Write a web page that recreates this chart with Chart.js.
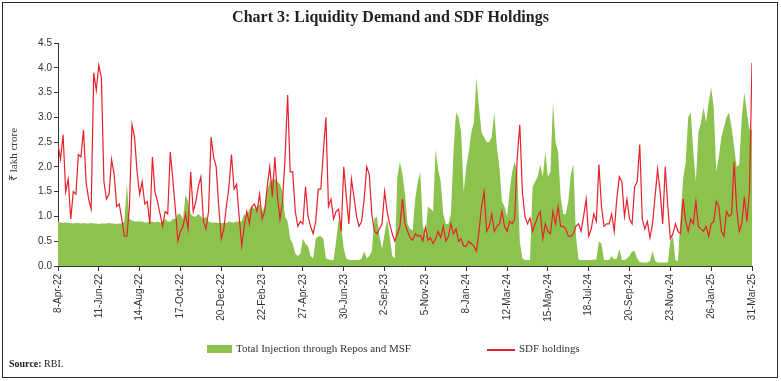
<!DOCTYPE html>
<html>
<head>
<meta charset="utf-8">
<script src="https://cdn.jsdelivr.net/npm/chart.js@4.4.1/dist/chart.umd.min.js"></script>
<style>
  html, body { margin: 0; padding: 0; background: #fff; }
  #wrap { position: relative; width: 781px; height: 381px; overflow: hidden; background: #fff; }
  #frame { position: absolute; left: 2px; top: 2px; width: 774px; height: 374px; border: 1.5px solid #2b2b2b; pointer-events: none; }
  #title { position: absolute; left: 0; top: 8px; width: 781px; text-align: center; font: bold 16px "Liberation Serif", serif; color: #222; }
  canvas { position: absolute; left: 0; top: 0; }
  .lg { position: absolute; top: 342px; font: 11px "Liberation Serif", serif; color: #333; white-space: nowrap; }
  .swatch { position: absolute; top: 345px; left: 207px; width: 25px; height: 8px; background: #8cc34f; }
  .redline { position: absolute; top: 349px; left: 487px; width: 28px; height: 1.5px; background: #e8202a; }
  #source { position: absolute; left: 9px; top: 358px; font: 10px "Liberation Serif", serif; color: #222; }
</style>
</head>
<body>
<div id="wrap">
  <canvas id="myChart" width="781" height="381"></canvas>
  <div id="title">Chart 3: Liquidity Demand and SDF Holdings</div>
  <div class="swatch"></div>
  <div class="lg" style="left:236px">Total Injection through Repos and MSF</div>
  <div class="redline"></div>
  <div class="lg" style="left:519px">SDF holdings</div>
  <div id="source"><b>Source:</b> RBI.</div>
  <div id="frame"></div>
</div>
<script>
// one value every 4 days, starting 8-Apr-22
const dayStep = 4;
const tickDays = 64;
const tickLabels = ['8-Apr-22', '11-Jun-22', '14-Aug-22', '17-Oct-22', '20-Dec-22', '22-Feb-23',
  '27-Apr-23', '30-Jun-23', '2-Sep-23', '5-Nov-23', '8-Jan-24', '12-Mar-24', '15-May-24',
  '18-Jul-24', '20-Sep-24', '23-Nov-24', '26-Jan-25', '31-Mar-25'];

// Total Injection through Repos and MSF (₹ lakh crore)
const injection = [
  0.9, 0.88, 0.87, 0.88, 0.87, 0.87, 0.86, 0.87, 0.87, 0.86,
  0.87, 0.86, 0.86, 0.87, 0.86, 0.86, 0.85, 0.86, 0.86, 0.86,
  0.87, 0.86, 0.86, 0.85, 0.86, 0.86, 0.9, 1.65, 0.95, 0.92,
  0.9, 0.9, 0.9, 0.9, 0.88, 0.88, 0.9, 0.9, 0.88, 0.9,
  0.88, 0.9, 0.95, 0.9,
  0.9, 0.95, 0.95, 1.05, 1.05, 0.95, 1.45, 1.3, 1.05, 1.0,
  1.0, 1.05, 1.0, 0.95, 1.0, 0.9, 0.88, 0.88, 0.88, 0.87,
  0.87, 0.87, 0.87, 0.9, 0.88, 0.88, 0.9, 0.9, 0.9, 1.05,
  1.0, 1.15, 1.2, 1.15, 1.2, 1.25, 1.1, 1.2, 1.55, 1.7,
  1.75, 1.75, 1.7, 1.65, 1.5,
  1.0, 0.9, 0.55, 0.45, 0.25, 0.2, 0.25, 0.55, 0.45, 0.4,
  0.2, 0.15, 0.55, 0.6, 0.6, 0.55, 0.15, 0.13, 0.12, 0.12,
  0.5, 0.95, 0.8, 0.35, 0.15, 0.12, 0.12, 0.12, 0.12, 0.12,
  0.15, 0.3, 0.15, 0.2, 0.3, 0.95, 1.0, 0.6, 0.35, 0.65,
  0.95, 0.6, 0.2, 0.15, 1.8, 2.1,
  1.85, 1.45, 0.85, 0.75, 0.72, 1.35, 1.7, 1.9, 0.8, 0.6,
  1.2, 1.15, 1.1, 2.35, 1.95, 1.7, 1.05, 0.85, 0.85, 1.05,
  2.3, 3.1, 3.0, 2.7, 1.5, 2.0, 2.3, 2.7, 2.9, 3.8,
  3.2, 2.7, 2.6, 2.5, 2.5, 2.6, 3.1, 2.4, 2.0, 1.3,
  1.2, 1.0, 1.5, 1.9, 2.1,
  1.9, 0.5, 0.15, 0.12, 0.12, 0.12, 1.6, 1.7, 1.8, 2.05,
  1.8, 2.3, 1.8, 1.9, 3.3, 2.5, 2.3, 1.4, 1.05, 1.05,
  1.3, 1.85, 2.05, 0.6, 0.13, 0.12, 0.12, 0.12, 0.12, 0.12,
  0.13, 0.13, 0.5, 0.45, 0.12, 0.12, 0.12, 0.2, 0.13, 0.15,
  0.35, 0.12, 0.12, 0.15, 0.2,
  0.3, 0.3, 0.15, 0.08, 0.07, 0.07, 0.07, 0.1, 0.3, 0.1,
  0.07, 0.07, 0.07, 0.07, 0.07, 0.5, 0.6, 0.12, 0.1, 1.0,
  1.75, 2.1, 3.0, 3.1, 2.3, 1.7, 2.7, 2.9, 3.2, 2.9,
  3.3, 3.6, 3.2, 1.9, 2.2, 2.6, 2.8, 3.0, 3.1, 2.8,
  2.4, 2.0, 2.05, 3.0, 3.5, 3.1, 2.75, 2.75
];

// SDF holdings (₹ lakh crore)
const sdf = [
  2.45, 2.15, 2.65, 1.5, 1.75, 0.95, 1.5, 1.45, 2.25, 2.2,
  2.75, 1.7, 1.35, 1.15, 3.9, 3.55, 4.05, 3.8, 1.7, 1.35,
  1.45, 2.15, 1.85, 1.2, 1.25, 0.95, 0.6, 0.6, 1.2, 2.85,
  2.6, 1.9, 1.45, 1.7, 1.25, 1.3, 0.85, 2.2, 1.5, 1.3,
  1.05, 0.8, 1.1, 1.05,
  2.3, 1.75, 1.15, 0.5, 0.7, 0.8, 1.05, 0.75, 1.9, 1.1,
  1.3, 1.6, 1.8, 0.9, 0.75, 1.1, 2.6, 2.2, 2.0, 1.2,
  0.55, 0.75, 1.2, 1.6, 2.25, 1.55, 1.65, 1.0, 0.4, 0.8,
  1.1, 0.85, 1.2, 1.25, 1.1, 1.45, 0.95, 1.1, 1.6, 2.0,
  1.4, 2.2, 1.4, 0.95, 1.3,
  2.2, 3.45, 1.9, 1.9, 1.1, 0.8, 0.9, 0.85, 1.6, 1.0,
  0.8, 0.65, 0.9, 1.55, 1.55, 2.3, 3.0, 1.2, 1.35, 0.95,
  1.1, 1.15, 0.7, 2.0, 1.4, 0.85, 1.75, 1.4, 1.0, 0.8,
  0.9, 1.35, 2.0, 1.85, 1.05, 0.7, 0.65, 0.75, 0.85, 1.5,
  1.1, 0.85, 0.65, 0.5, 0.65, 0.8,
  1.35, 0.85, 0.7, 0.57, 0.52, 0.65, 0.6, 0.62, 0.5, 0.78,
  0.52, 0.57, 0.45, 0.55, 0.7, 0.57, 0.8, 0.5, 0.6, 0.85,
  0.65, 0.75, 0.5, 0.55, 0.4, 0.4, 0.5, 0.45, 0.4, 0.3,
  0.7, 1.2, 1.5, 0.7, 0.8, 1.05, 0.7, 0.8, 0.85, 1.1,
  0.8, 0.7, 0.9, 0.85, 0.95,
  2.2, 2.85, 1.5, 1.0, 0.85, 0.97, 0.7, 0.85, 1.0, 1.1,
  0.55, 0.85, 0.7, 0.65, 1.1, 0.85, 1.2, 0.8, 0.8, 0.75,
  0.6, 0.6, 0.65, 0.8, 0.85, 0.7, 1.0, 1.35, 0.6, 0.75,
  1.05, 0.9, 2.05, 1.2, 0.8, 0.85, 0.85, 1.05, 0.7, 1.35,
  1.8, 1.7, 1.0, 1.35, 0.95,
  0.85, 1.6, 1.7, 2.45, 0.95, 0.75, 0.9, 0.57, 0.85, 1.4,
  1.95, 1.5, 0.85, 2.0, 1.2, 0.55, 0.65, 0.85, 0.7, 0.65,
  1.35, 0.9, 0.7, 0.95, 0.85, 1.3, 0.8, 0.75, 0.7, 0.8,
  0.6, 0.85, 0.9, 1.3, 1.2, 0.7, 0.6, 1.1, 1.0, 1.05,
  2.1, 1.15, 0.7, 0.85, 1.4, 0.9, 1.5, 4.1
];

const toPoints = arr => arr.map((v, i) => ({ x: i * dayStep, y: v }));
const tickFont = { family: '"Liberation Sans", Arial, sans-serif', size: 10 };

const ctx = document.getElementById('myChart').getContext('2d');
new Chart(ctx, {
  type: 'line',
  data: {
    datasets: [
      {
        label: 'SDF holdings',
        data: toPoints(sdf),
        borderColor: '#e8202a',
        borderWidth: 1.2,
        pointRadius: 0,
        fill: false,
        order: 0
      },
      {
        label: 'Total Injection through Repos and MSF',
        data: toPoints(injection),
        borderColor: 'rgba(0,0,0,0)',
        borderWidth: 0,
        backgroundColor: '#8cc34f',
        pointRadius: 0,
        fill: 'origin',
        order: 1
      }
    ]
  },
  options: {
    responsive: false,
    animation: false,
    layout: { padding: { left: 0, right: 29, top: 43, bottom: 45 } },
    plugins: {
      legend: { display: false },
      tooltip: { enabled: false }
    },
    scales: {
      x: {
        type: 'linear',
        min: 0,
        max: (tickLabels.length - 1) * tickDays,
        afterBuildTicks: s => { s.ticks = tickLabels.map((l, i) => ({ value: i * tickDays })); },
        afterFit: s => { s.height = 70; },
        ticks: {
          autoSkip: false,
          minRotation: 90,
          maxRotation: 90,
          padding: 3,
          color: '#333',
          font: tickFont,
          callback: v => tickLabels[Math.round(v / tickDays)]
        },
        grid: { drawOnChartArea: false, tickLength: 5, color: '#333' },
        border: { color: '#333' }
      },
      y: {
        min: 0,
        max: 4.5,
        afterFit: s => { s.width = 58; },
        ticks: {
          stepSize: 0.5,
          padding: 2,
          color: '#333',
          font: tickFont,
          callback: v => v.toFixed(1)
        },
        grid: { drawOnChartArea: false, tickLength: 4, color: '#333' },
        border: { color: '#333' },
        title: {
          display: true,
          text: '₹ lakh crore',
          color: '#333',
          font: { family: '"Liberation Serif", serif', size: 11 },
          padding: { top: 8, bottom: 0 }
        }
      }
    }
  }
});
</script>
</body>
</html>
